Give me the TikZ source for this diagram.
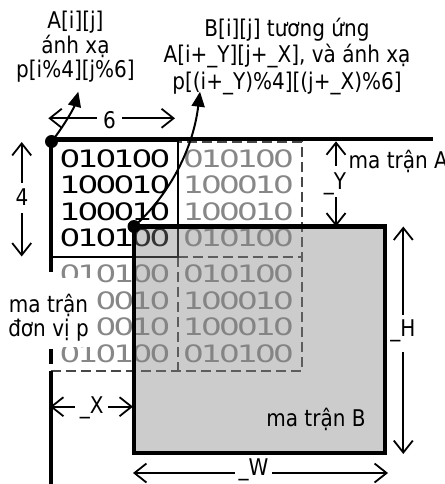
\documentclass[tikz,border=0pt]{standalone}
\usepackage{fontspec}
\setmainfont{DejaVu Sans}[FakeStretch=0.87]
\newfontfamily\digfont{DejaVu Sans}
\usepackage{graphicx}
\usetikzlibrary{arrows.meta}
\definecolor{dashgray}{gray}{0.28}
\definecolor{diggray}{gray}{0.53}
\newcommand\drow[1]{\drowi#1\relax}
\def\drowi#1{\ifx\relax#1\else\makebox[18pt]{\scalebox{1.36}[1]{#1}}\expandafter\drowi\fi}
\begin{document}
\begin{tikzpicture}[x=1pt,y=-1pt,
  axisline/.style={line width=4.5pt},
  tileline/.style={line width=2pt},
  dashline/.style={line width=2pt, dashgray, dash pattern=on 10pt off 5pt},
  dig/.style={inner sep=0pt, font=\digfont\fontsize{24}{24}\selectfont},
  digA/.style={dig, text=black},
  digB/.style={dig, text=diggray},
  dimline/.style={line width=1.8pt, {Straight Barb[length=12pt,width=19pt]}-{Straight Barb[length=12pt,width=19pt]}},
  dimlabel/.style={fill=white, inner ysep=0pt, inner xsep=4pt, anchor=base, font=\fontsize{23}{26}\selectfont},
  txt/.style={inner sep=0pt, font=\fontsize{23}{26}\selectfont},
  ptr/.style={line width=2pt, -{Triangle[length=15pt,width=13pt]}},
  dotnode/.style={circle, fill=black, inner sep=0pt, minimum size=13pt}]
\useasboundingbox (0,0) rectangle (444,484);
% digits
\foreach \cx/\sty [count=\k] in {115/digA, 238.5/digB}{
  \node[\sty] (t\k r1) at (\cx,158.5) {\drow{010100}};
  \node[\sty] (t\k r2) at (\cx,185) {\drow{100010}};
  \node[\sty] (t\k r3) at (\cx,211.5) {\drow{100010}};
  \node[\sty] (t\k r4) at (\cx,238) {\drow{010100}};
}
\foreach \cx [count=\k] in {115, 238.5}{
  \node[digB] (u\k r1) at (\cx,274) {\drow{010100}};
  \node[digB] (u\k r2) at (\cx,300.5) {\drow{100010}};
  \node[digB] (u\k r3) at (\cx,327) {\drow{100010}};
  \node[digB] (u\k r4) at (\cx,353.5) {\drow{010100}};
}
% tile borders
\draw[dashline] (51,371) -- (302,371) -- (302,142) -- (177.5,142);
\draw[dashline] (177.5,257) -- (302,257);
\draw[dashline] (177.5,257) -- (177.5,371);
\draw[tileline] (51,141) rectangle (177.5,257);
% matrix B
\node[draw, line width=4.3pt, fill=gray, fill opacity=0.4, draw opacity=1,
      minimum width=251pt, minimum height=226.8pt, inner sep=0pt, outer sep=0pt]
      (B) at (259.5,339.9) {};
% axes
\coordinate (corner) at (51,139);
\coordinate (topend) at (433,139);
\coordinate (lmid1) at (51,257);
\coordinate (lmid2) at (51,371);
\coordinate (lbot) at (51,484);
\draw[axisline] (topend) -- (corner) -- (lmid1);
\draw[axisline, dash pattern=on 15pt off 8pt] (lmid1) -- (lmid2);
\draw[axisline] (lmid2) -- (lbot);
% label p
\fill[white] (2,278) rectangle (97,347);
\node[txt, align=center, anchor=base, font=\fontsize{23}{23.3}\selectfont] (lblP) at (48.5,336) {ma trận\\đơn vị p};
% dots and pointers
\node[dotnode] (dot1) at (51.5,141.5) {};
\node[dotnode] (dot2) at (B.north west) {};
\coordinate (tip1) at (78.3,91.7);
\coordinate (tip2) at (200,91.7);
\draw[ptr] (dot1.center) .. controls (62,129) and (74,108) .. (tip1);
\draw[ptr] (dot2.center) .. controls (167.9,196) and (192.7,151.3) .. (tip2);
% top texts
\node[txt, align=center, anchor=base, font=\fontsize{23}{24.3}\selectfont] (lblA) at (75.5,77.6) {A[i][j]\\ánh xạ\\p[i\%4][j\%6]};
\node[txt, align=center, anchor=base, font=\fontsize{23}{26.2}\selectfont] (lblB) at (287,89.1) {B[i][j] tương ứng\\A[i+\_Y][j+\_X], và ánh xạ\\p[(i+\_Y)\%4][(j+\_X)\%6]};
\node[txt, anchor=base west] (lblMA) at (348.5,168.5) {ma trận A};
\node[txt, anchor=base] (lblMB) at (316,426.7) {ma trận B};
% dimensions
\coordinate (d6a) at (48.3,118.3);
\coordinate (d6b) at (175,118.3);
\draw[dimline] (d6a) -- (d6b);
\node[dimlabel, inner xsep=6pt] (l6) at (109.5,128.3) {6};
\coordinate (d4a) at (21.7,142);
\coordinate (d4b) at (21.7,256.5);
\draw[dimline] (d4a) -- (d4b);
\node[dimlabel, text height=21.7pt, text depth=8.3pt] (l4) at (22,205) {4};
\coordinate (dYa) at (336,141.3);
\coordinate (dYb) at (336,226.5);
\draw[dimline] (dYa) -- (dYb);
\node[dimlabel, text height=23.5pt, text depth=7.2pt, inner xsep=1pt] (lY) at (335,189.5) {\_Y};
\coordinate (dHa) at (403.3,226.5);
\coordinate (dHb) at (403.3,454);
\draw[dimline] (dHa) -- (dHb);
\node[dimlabel, text height=21.7pt, text depth=15pt, inner xsep=1pt] (lH) at (403,336.7) {\_H};
\coordinate (dXa) at (50,406.7);
\coordinate (dXb) at (133,406.7);
\draw[dimline] (dXa) -- (dXb);
\node[dimlabel, inner xsep=4.8pt] (lX) at (91.7,413) {\_X};
\coordinate (dWa) at (133,473);
\coordinate (dWb) at (388,473);
\draw[dimline] (dWa) -- (dWb);
\node[dimlabel, inner xsep=3.6pt] (lW) at (253.5,475.5) {\_W};
\end{tikzpicture}
\end{document}
